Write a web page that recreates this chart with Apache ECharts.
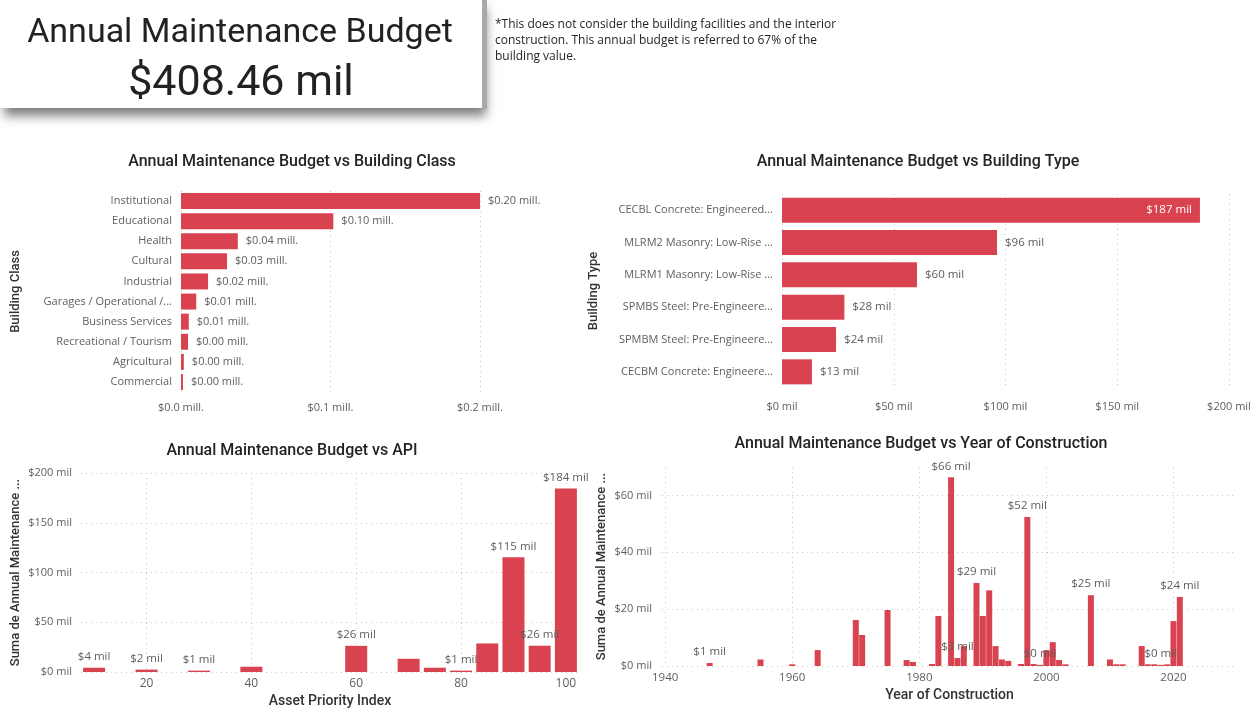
<!DOCTYPE html>
<html>
<head>
    <meta charset="utf-8">
    <title>Annual Maintenance Budget</title>
    <script src="https://cdn.jsdelivr.net/npm/echarts@6/dist/echarts.min.js"></script>
    <style type="text/css">
        html, body { margin: 0; padding: 0; background: #fff; }
        #main { width: 1255px; height: 714px; }
    </style>
</head>
<body>
<div id="main"></div>
<script type="text/javascript">
    // budget by building class (mill.)
    var classNames = ['Institutional', 'Educational', 'Health', 'Cultural', 'Industrial',
        'Garages / Operational /...', 'Business Services', 'Recreational / Tourism', 'Agricultural', 'Commercial'];
    var classValues = [0.2, 0.1019, 0.038, 0.0308, 0.0181, 0.0102, 0.0052, 0.0047, 0.0019, 0.0013];

    // budget by building type (mil)
    var typeNames = ['CECBL Concrete: Engineered...', 'MLRM2 Masonry: Low-Rise ...', 'MLRM1 Masonry: Low-Rise ...',
        'SPMBS Steel: Pre-Engineere...', 'SPMBM Steel: Pre-Engineere...', 'CECBM Concrete: Engineere...'];
    var typeValues = [187, 96.2, 60.4, 27.9, 24.2, 13.4];

    // budget by asset priority index (mil)
    var apiIndex = [10, 20, 30, 40, 60, 70, 75, 80, 85, 90, 95, 100];
    var apiValues = [4.3, 2.4, 1.4, 5.3, 26.3, 13.3, 4.3, 1.4, 28.7, 115.3, 26.4, 184.4];
    var apiLabelled = [10, 20, 30, 60, 80, 90, 95, 100];
    var apiXTicks = [20, 40, 60, 80, 100];

    // budget by year of construction (mil)
    var years = [1947, 1955, 1960, 1964, 1970, 1971, 1975, 1978, 1979, 1982, 1983, 1985, 1986, 1987,
        1989, 1990, 1991, 1992, 1993, 1994, 1996, 1997, 1998, 1999, 2000, 2001, 2002, 2003,
        2007, 2010, 2011, 2012, 2015, 2016, 2017, 2018, 2019, 2020, 2021];
    var yearValues = [1.05, 2.3, 0.6, 5.6, 16.2, 10.9, 19.7, 2.1, 1.4, 0.7, 17.6, 66.4, 2.8, 7.0,
        29.2, 17.6, 26.6, 7.0, 2.3, 1.8, 0.7, 52.4, 0.7, 0.4, 5.6, 8.4, 2.1, 0.6,
        24.9, 2.3, 0.6, 0.6, 7.0, 0.6, 0.6, 0.4, 0.6, 15.8, 24.3];
    var yearLabelled = [1947, 1985, 1986, 1989, 1997, 1999, 2007, 2018, 2021];
    var yearXTicks = [1940, 1960, 1980, 2000, 2020];
    var yearYTicks = [0, 20, 40, 60];

    var RED = '#D8434F';
    var TXT = '#605E5C';
    var FONT = 'Open Sans';
    var TFONT = 'Roboto';

    var gridLine = {show: true, lineStyle: {color: '#c8c8c8', type: [1, 4], width: 1}};
    function mil(v) { return '$' + Math.round(v) + ' mil'; }
    function mill(v) { return '$' + v.toFixed(2) + ' mill.'; }
    function lbl(extra) {
        var o = {color: TXT, fontFamily: FONT, fontSize: 11};
        for (var k in extra) o[k] = extra[k];
        return o;
    }
    function axisName(extra) {
        var o = {color: '#333', fontFamily: TFONT, fontSize: 13, fontWeight: 500};
        for (var k in extra) o[k] = extra[k];
        return o;
    }
    function chartTitle(text, x, y) {
        return {
            type: 'text', x: x, y: y,
            style: {text: text, fill: '#252423', font: '500 16px ' + TFONT, textAlign: 'center', textVerticalAlign: 'middle'}
        };
    }

    var chart = echarts.init(document.getElementById('main'));
    chart.setOption({
        animation: false,
        graphic: [
            {type: 'rect', shape: {x: 0, y: 0, width: 482, height: 108},
                style: {fill: '#fff', shadowBlur: 10, shadowOffsetX: 4, shadowOffsetY: 8, shadowColor: 'rgba(0,0,0,0.5)'}},
            {type: 'rect', shape: {x: 482, y: 0, width: 5, height: 109}, style: {fill: '#a9a9a9'}},
            {type: 'text', x: 240, y: 33,
                style: {text: 'Annual Maintenance Budget', fill: '#222', font: '34px ' + TFONT, textAlign: 'center', textVerticalAlign: 'middle'}},
            {type: 'text', x: 241, y: 84,
                style: {text: '$408.46 mil', fill: '#222', font: '43px ' + TFONT, textAlign: 'center', textVerticalAlign: 'middle'}},
            {type: 'text', x: 495, y: 17,
                style: {text: '*This does not consider the building facilities and the interior\nconstruction. This annual budget is referred to 67% of the\nbuilding value.',
                    fill: '#252423', font: '12px ' + FONT, lineHeight: 16, textVerticalAlign: 'top'}},
            chartTitle('Annual Maintenance Budget vs Building Class', 292, 162),
            chartTitle('Annual Maintenance Budget vs Building Type', 918, 162),
            chartTitle('Annual Maintenance Budget vs API', 292, 451),
            chartTitle('Annual Maintenance Budget vs Year of Construction', 921, 444)
        ],
        grid: [
            {left: 181, top: 191, width: 299, height: 201},
            {left: 782, top: 194, width: 447, height: 194},
            {left: 81, top: 473, width: 498, height: 199},
            {left: 662, top: 467, width: 575, height: 199}
        ],
        xAxis: [
            {gridIndex: 0, type: 'value', min: 0, max: 0.2, interval: 0.1,
                axisLine: {show: false}, axisTick: {show: false}, splitLine: gridLine,
                axisLabel: lbl({margin: 10, formatter: function (v) { return '$' + v.toFixed(1) + ' mill.'; }})},
            {gridIndex: 1, type: 'value', min: 0, max: 200, interval: 50,
                axisLine: {show: false}, axisTick: {show: false}, splitLine: gridLine,
                axisLabel: lbl({margin: 13, formatter: function (v) { return '$' + v + ' mil'; }})},
            {gridIndex: 2, type: 'value', min: 7.5, max: 102.5,
                axisLine: {show: false}, axisTick: {show: false, customValues: apiXTicks}, splitLine: gridLine,
                axisLabel: lbl({margin: 6, fontSize: 12, customValues: apiXTicks}),
                name: 'Asset Priority Index', nameLocation: 'middle', nameGap: 22, nameTextStyle: axisName({fontSize: 14})},
            {gridIndex: 3, type: 'value', min: 1939.5, max: 2030,
                axisLine: {show: false}, axisTick: {show: false, customValues: yearXTicks}, splitLine: gridLine,
                axisLabel: lbl({margin: 6, fontSize: 11.5, customValues: yearXTicks, formatter: function (v) { return String(v); }}),
                name: 'Year of Construction', nameLocation: 'middle', nameGap: 22, nameTextStyle: axisName({fontSize: 14})}
        ],
        yAxis: [
            {gridIndex: 0, type: 'category', data: classNames, inverse: true,
                axisLine: {show: false}, axisTick: {show: false},
                axisLabel: lbl({margin: 9}),
                name: 'Building Class', nameLocation: 'middle', nameGap: 159, nameRotate: 90, nameTextStyle: axisName({})},
            {gridIndex: 1, type: 'category', data: typeNames, inverse: true,
                axisLine: {show: false}, axisTick: {show: false},
                axisLabel: lbl({margin: 9}),
                name: 'Building Type', nameLocation: 'middle', nameGap: 182, nameRotate: 90, nameTextStyle: axisName({})},
            {gridIndex: 2, type: 'value', min: 0, max: 200, interval: 50,
                axisLine: {show: false}, axisTick: {show: false}, splitLine: gridLine,
                axisLabel: lbl({margin: 9, formatter: function (v) { return '$' + v + ' mil'; }}),
                name: 'Suma de Annual Maintenance ...', nameLocation: 'middle', nameGap: 59, nameRotate: 90, nameTextStyle: axisName({})},
            {gridIndex: 3, type: 'value', min: 0, max: 70,
                axisLine: {show: false}, axisTick: {show: false, customValues: yearYTicks}, splitLine: gridLine,
                axisLabel: lbl({margin: 10, customValues: yearYTicks, formatter: function (v) { return '$' + v + ' mil'; }}),
                name: 'Suma de Annual Maintenance ...', nameLocation: 'middle', nameGap: 54, nameRotate: 90, nameTextStyle: axisName({})}
        ],
        series: [
            {type: 'bar', xAxisIndex: 0, yAxisIndex: 0, barWidth: 16, itemStyle: {color: RED},
                data: classValues,
                label: lbl({show: true, position: 'right', distance: 8, formatter: function (p) { return mill(p.value); }})},
            {type: 'bar', xAxisIndex: 1, yAxisIndex: 1, barWidth: 25, itemStyle: {color: RED},
                data: typeValues.map(function (v, i) {
                    return i === 0
                        ? {value: v, label: {position: 'insideRight', color: '#fff'}}
                        : {value: v};
                }),
                label: lbl({show: true, position: 'right', distance: 8, fontSize: 11.5, formatter: function (p) { return mil(p.value); }})},
            {type: 'bar', xAxisIndex: 2, yAxisIndex: 2, barWidth: 22, itemStyle: {color: RED},
                data: apiIndex.map(function (x, i) {
                    return {value: [x, apiValues[i]], label: {show: apiLabelled.indexOf(x) >= 0}};
                }),
                label: lbl({position: 'top', distance: 5, fontSize: 11.5, formatter: function (p) { return mil(p.value[1]); }})},
            {type: 'bar', xAxisIndex: 3, yAxisIndex: 3, barWidth: 6, itemStyle: {color: RED},
                data: years.map(function (x, i) {
                    return {value: [x, yearValues[i]], label: {show: yearLabelled.indexOf(x) >= 0}};
                }),
                label: lbl({position: 'top', distance: 5, fontSize: 11.5, formatter: function (p) { return mil(p.value[1]); }})}
        ]
    });
</script>
</body>
</html>
